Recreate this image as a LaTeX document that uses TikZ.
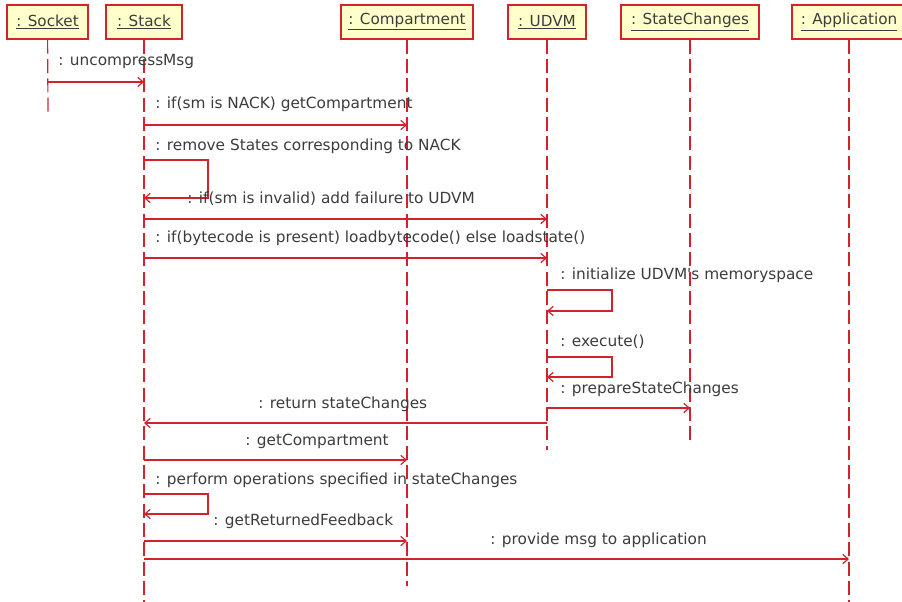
\documentclass[tikz,border=0pt]{standalone}
\usepackage{fontspec}
\setmainfont{DejaVu Sans}
\usetikzlibrary{arrows.meta}
\definecolor{umlred}{RGB}{210,35,45}
\definecolor{umlfill}{RGB}{255,255,204}
\definecolor{umltext}{RGB}{60,60,60}

\begin{document}
\begin{tikzpicture}[x=0.75pt,y=0.75pt,yscale=-1,xscale=1,
  objbox/.style={draw=umlred,fill=umlfill,line width=1.1pt,minimum height=25.5pt,inner sep=0pt,text=umltext,font=\fontsize{11.4}{13}\selectfont},
  lifeline/.style={umlred,line width=0.9pt,dash pattern=on 10.5pt off 4pt},
  msg/.style={umlred,line width=0.9pt,-{Straight Barb[length=4pt,width=7pt]}},
  lbl/.style={anchor=west,inner sep=0pt,text=umltext,font=\fontsize{11.5}{13}\selectfont}]
\useasboundingbox (0,0) rectangle (902,602);

%Objects
\node [objbox,minimum width=60.75pt] (socket) at (47.5,22) {\underline{: Socket}};
\node [objbox,minimum width=57pt] (stack) at (144,22) {\underline{: Stack}};
\node [objbox,minimum width=99pt] (compartment) at (407,22) {\underline{: Compartment}};
\node [objbox,minimum width=58.5pt] (udvm) at (547,22) {\underline{: UDVM}};
\node [objbox,minimum width=103.5pt] (statechanges) at (690,22) {\underline{: StateChanges}};
\node [objbox,minimum width=85.5pt] (application) at (849,22) {\underline{: Application}};

%Lifelines
\coordinate (socketEnd) at (48,112);
\coordinate (stackEnd) at (144,602);
\coordinate (compartmentEnd) at (407,586);
\coordinate (udvmEnd) at (547,450);
\coordinate (statechangesEnd) at (690,440);
\coordinate (applicationEnd) at (849,602);
\draw [lifeline] (socket) -- (socketEnd);
\draw [lifeline] (stack) -- (stackEnd);
\draw [lifeline] (compartment) -- (compartmentEnd);
\draw [lifeline] (udvm) -- (udvmEnd);
\draw [lifeline] (statechanges) -- (statechangesEnd);
\draw [lifeline] (application) -- (applicationEnd);

%Messages
\draw [msg] (socket |- 0,82) -- (stack |- 0,82);
\draw [msg] (stack |- 0,125) -- (compartment |- 0,125);
\draw [msg] (stack |- 0,160) -| (208,198) -- (stack |- 0,198);
\draw [msg] (stack |- 0,219) -- (udvm |- 0,219);
\draw [msg] (stack |- 0,258) -- (udvm |- 0,258);
\draw [msg] (udvm |- 0,290) -| (612,311) -- (udvm |- 0,311);
\draw [msg] (udvm |- 0,357) -| (612,377) -- (udvm |- 0,377);
\draw [msg] (udvm |- 0,408) -- (statechanges |- 0,408);
\draw [msg] (udvm |- 0,423) -- (stack |- 0,423);
\draw [msg] (stack |- 0,460) -- (compartment |- 0,460);
\draw [msg] (stack |- 0,494) -| (208,514) -- (stack |- 0,514);
\draw [msg] (stack |- 0,541) -- (compartment |- 0,541);
\draw [msg] (stack |- 0,559) -- (application |- 0,559);

% Text Node
\node [lbl] (uncompress) at (58,62) {: uncompressMsg};
% Text Node
\node [lbl] (getcomp) at (155,104) {: if(sm is NACK) getCompartment};
% Text Node
\node [lbl] (remove) at (155,146) {: remove States corresponding to NACK};
% Text Node
\node [lbl] (invalid) at (187,199) {: if(sm is invalid) add failure to UDVM};
% Text Node
\node [lbl] (load) at (155,238) {: if(bytecode is present) loadbytecode() else loadstate()};
% Text Node
\node [lbl] (init) at (560,275) {: initialize UDVM\textquotesingle s memoryspace};
% Text Node
\node [lbl] (execute) at (560,342) {: execute()};
% Text Node
\node [lbl] (prepare) at (560,389) {: prepareStateChanges};
% Text Node
\node [lbl] (return) at (258,404) {: return stateChanges};
% Text Node
\node [lbl] (getcomp2) at (245,441) {: getCompartment};
% Text Node
\node [lbl] (perform) at (155,480) {: perform operations specified in stateChanges};
% Text Node
\node [lbl] (feedback) at (213,521) {: getReturnedFeedback};
% Text Node
\node [lbl] (provide) at (490,540) {: provide msg to application};

\end{tikzpicture}
\end{document}
